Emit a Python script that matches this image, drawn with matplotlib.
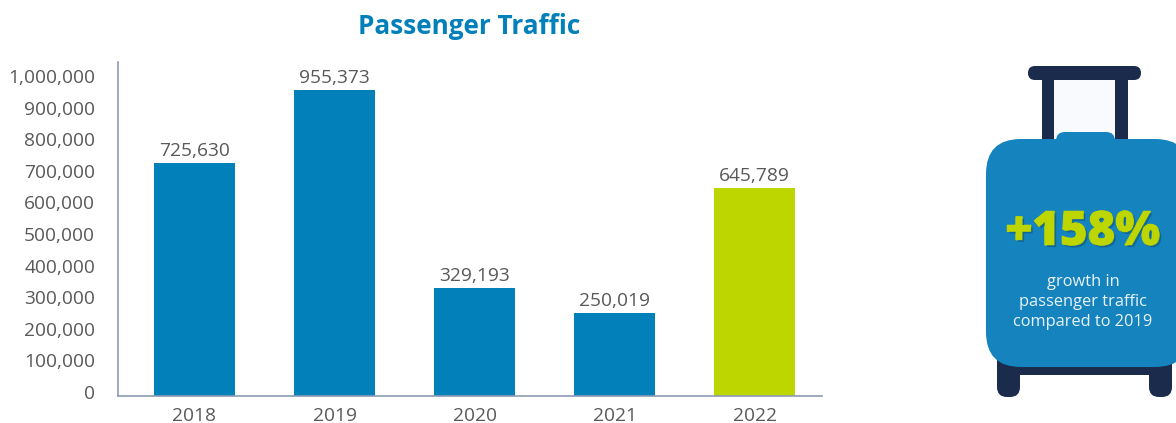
import matplotlib
matplotlib.use("Agg")
import matplotlib.pyplot as plt
import matplotlib.patheffects as pe
from matplotlib.patches import FancyBboxPatch, Rectangle

years = ["2018", "2019", "2020", "2021", "2022"]
traffic = [725630, 955373, 329193, 250019, 645789]
yticks = [0, 100000, 200000, 300000, 400000, 500000, 600000, 700000, 800000, 900000, 1000000]
growth_label = "+158%"
growth_text = ["growth in", "passenger traffic", "compared to 2019"]

BLUE = "#0180BA"
LIME = "#BDD600"
NAVY = "#1A2B4C"
CASE = "#1583BE"
GREY = "#595959"
W, H = 1176, 423

plt.rcParams["font.family"] = ["Open Sans", "DejaVu Sans"]
fig = plt.figure(figsize=(W / 100, H / 100), dpi=100)

# overlay in pixel coords for the suitcase
bg = fig.add_axes([0, 0, 1, 1])
bg.set_xlim(0, W)
bg.set_ylim(H, 0)
bg.axis("off")


def rbox(x0, y0, x1, y1, r, color, z=1):
    bg.add_patch(FancyBboxPatch((x0 + r, y0 + r), x1 - x0 - 2 * r, y1 - y0 - 2 * r,
                                boxstyle=f"round,pad={r},rounding_size={r}",
                                fc=color, ec="none", zorder=z))


bg.add_patch(Rectangle((1054, 80), 61, 60, fc="#F8FAFD", ec="none", zorder=1))
rbox(1028, 66, 1141, 80, 7, NAVY, 2)
bg.add_patch(Rectangle((1042, 75), 12, 68, fc=NAVY, ec="none", zorder=2))
bg.add_patch(Rectangle((1115, 75), 13, 68, fc=NAVY, ec="none", zorder=2))
rbox(997, 360, 1020, 397, 10, NAVY, 2)
rbox(1149, 360, 1172, 397, 10, NAVY, 2)
bg.add_patch(Rectangle((997, 360), 175, 15, fc=NAVY, ec="none", zorder=2))
rbox(1056, 132, 1115, 160, 9, CASE, 3)
rbox(986, 139, 1190, 367, 35, CASE, 3)

bg.text(1083, 233, growth_label, color=LIME, fontsize=34, fontweight="heavy",
        ha="center", va="center", zorder=5,
        path_effects=[pe.withStroke(linewidth=0.8, foreground=LIME),
                      pe.withSimplePatchShadow(offset=(1.5, -1.5), shadow_rgbFace="#0B4F78", alpha=0.5),
                      pe.Normal()])
for txt, yy in zip(growth_text, [282, 302, 322]):
    bg.text(1083, yy, txt, color="#E8F3F9", fontsize=11.8, ha="center", va="center", zorder=5)

bg.text(469, 26, "Passenger Traffic", color=BLUE, fontsize=18.8, fontweight="bold",
        ha="center", va="center")

# chart axes: left 118, right 822, top 62, bottom 396 px
ax = fig.add_axes([118 / W, 1 - 396 / H, 704 / W, 334 / H])
ax.patch.set_alpha(0)
ymin = -12658
ax.set_ylim(ymin, 1044000)
ax.set_xlim(-0.546, 4.48)

colors = [BLUE] * 4 + [LIME]
xs = range(len(years))
bars = ax.bar(xs, [v - ymin for v in traffic], bottom=ymin, width=0.58, color=colors)
ax.bar_label(bars, labels=[f"{v:,}" for v in traffic], padding=2, fontsize=13.8, color=GREY)

ax.set_xticks(list(xs), years)
ax.set_yticks(yticks, [f"{v:,}" for v in yticks])
ax.tick_params(axis="both", length=0, labelsize=13.8, labelcolor=GREY)
ax.tick_params(axis="x", pad=8)
ax.tick_params(axis="y", pad=16.5)
for s in ["top", "right"]:
    ax.spines[s].set_visible(False)
for s in ["left", "bottom"]:
    ax.spines[s].set_color("#8C9BB5")
    ax.spines[s].set_linewidth(1.2)

fig.savefig("out.png", dpi=100)
